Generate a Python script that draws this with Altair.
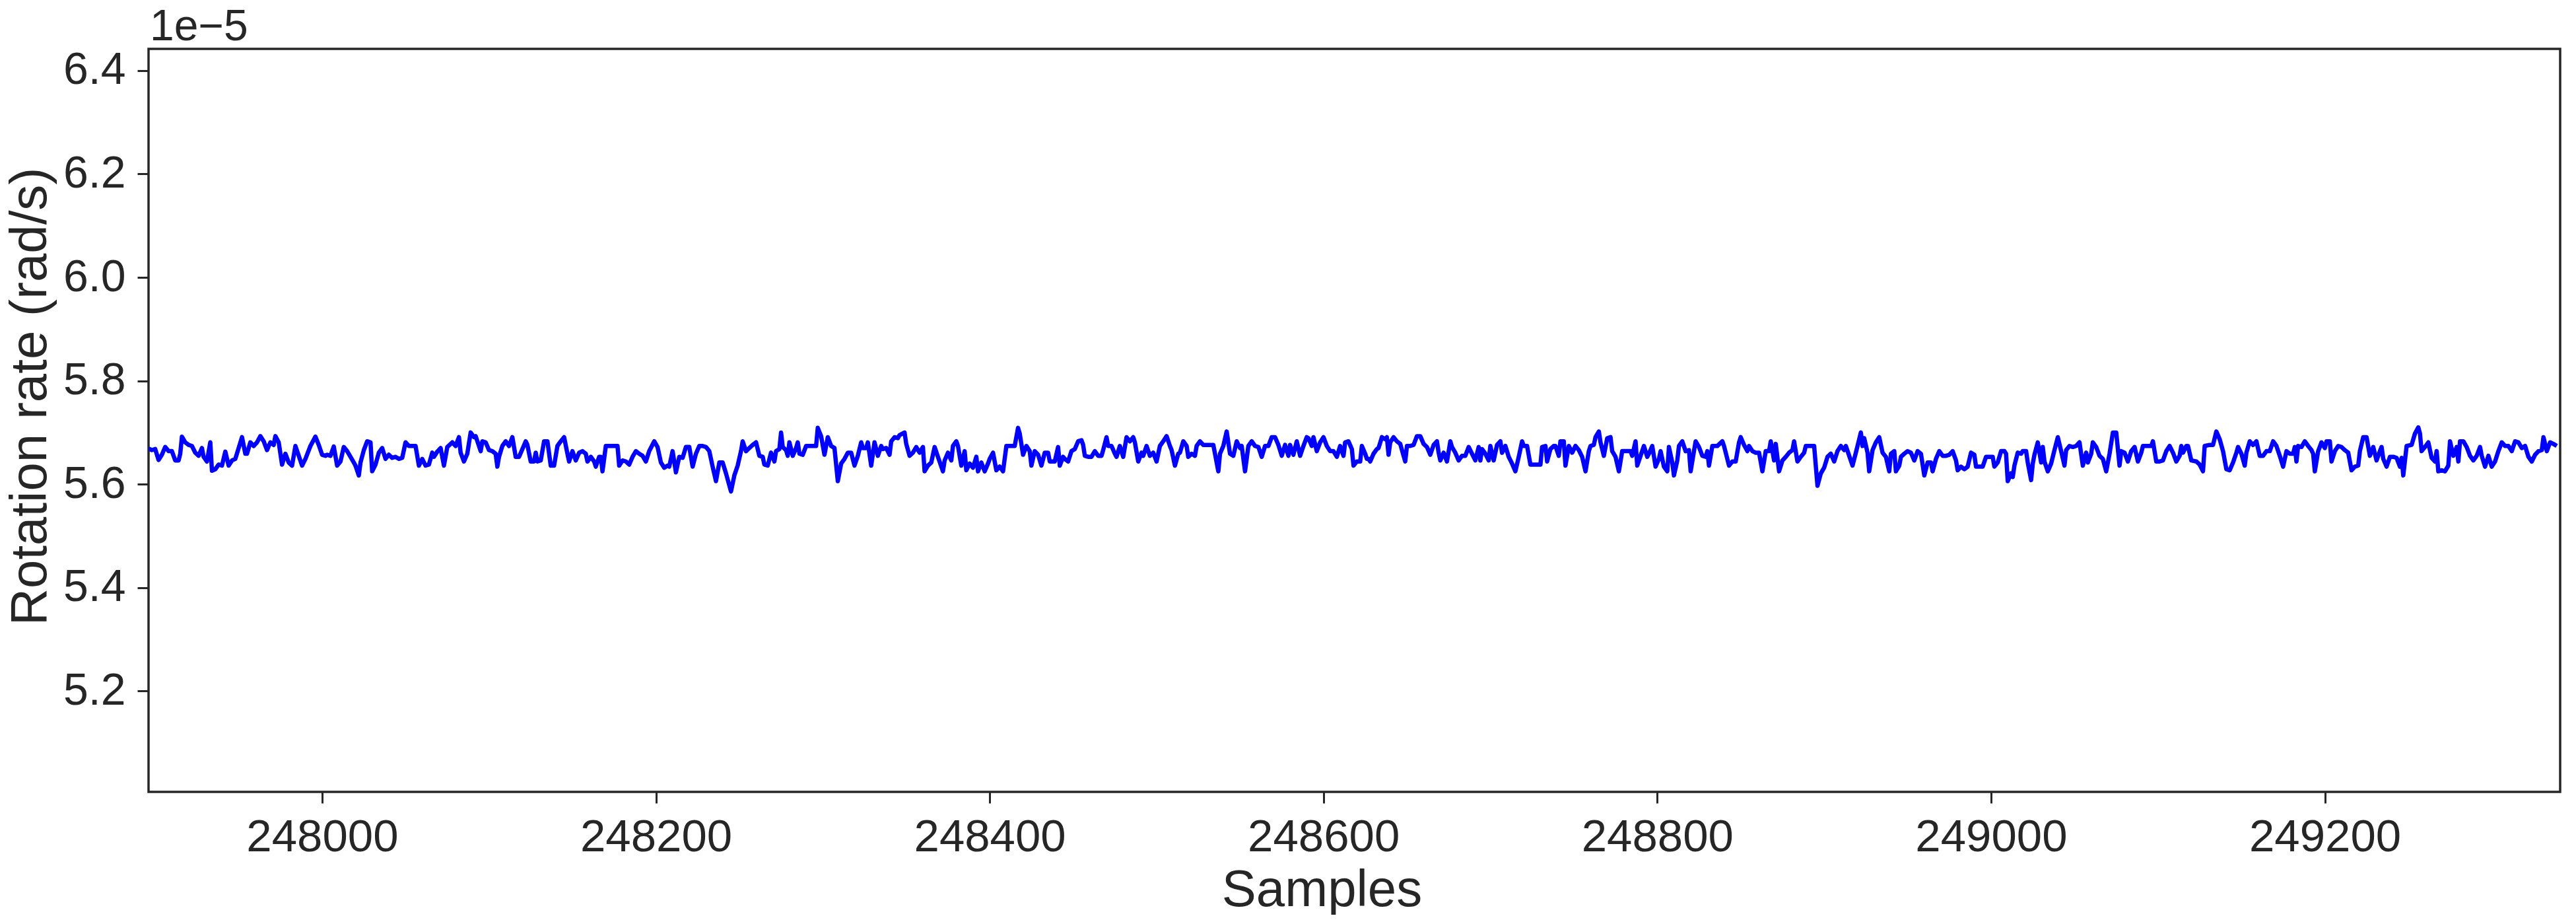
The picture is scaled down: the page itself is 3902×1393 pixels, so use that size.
import altair as alt
import pandas as pd

# ---- data (rotation rate in units of 1e-5 rad/s) ----
samples_a = [247896, 247898, 247900, 247902, 247904, 247906, 247908, 247910, 247912, 247914,
             247915, 247916, 247918, 247920, 247922, 247924, 247926, 247928, 247929, 247931,
             247933, 247934, 247936, 247938, 247940, 247942, 247944, 247946, 247948, 247950,
             247952, 247954, 247955, 247957, 247959, 247961, 247963, 247965, 247967, 247969,
             247971, 247972, 247974, 247976, 247978, 247980, 247982, 247984, 247986, 247988,
             247990, 247993, 247996, 247998, 248000, 248002, 248003, 248005, 248007, 248009,
             248011, 248013, 248015, 248017, 248019, 248020, 248022, 248023, 248025, 248027,
             248029, 248030, 248032, 248034, 248036, 248038, 248040, 248042, 248044, 248046,
             248048, 248050, 248052, 248054, 248056, 248058, 248060, 248062, 248064, 248066,
             248067, 248069, 248071, 248073, 248075, 248078, 248080]
rate_a = [5.669, 5.666, 5.668, 5.647, 5.657, 5.672, 5.664, 5.664, 5.646, 5.646,
          5.659, 5.692, 5.681, 5.676, 5.674, 5.661, 5.655, 5.670, 5.653, 5.644,
          5.681, 5.626, 5.629, 5.638, 5.636, 5.663, 5.636, 5.646, 5.649, 5.670,
          5.691, 5.659, 5.659, 5.681, 5.674, 5.681, 5.693, 5.683, 5.666, 5.681,
          5.676, 5.693, 5.681, 5.638, 5.659, 5.642, 5.636, 5.674, 5.655, 5.636,
          5.649, 5.674, 5.692, 5.676, 5.657, 5.655, 5.657, 5.655, 5.673, 5.636,
          5.644, 5.672, 5.664, 5.653, 5.642, 5.636, 5.617, 5.642, 5.666, 5.683,
          5.681, 5.625, 5.638, 5.661, 5.670, 5.649, 5.657, 5.651, 5.653, 5.649,
          5.651, 5.681, 5.674, 5.674, 5.674, 5.636, 5.649, 5.636, 5.638, 5.661,
          5.653, 5.663, 5.670, 5.636, 5.672, 5.681, 5.674]

samples_b = [248082, 248083, 248085, 248087, 248089, 248091, 248092, 248094, 248095, 248096,
             248098, 248100, 248102, 248104, 248105, 248106, 248108, 248110, 248112, 248114,
             248116, 248118, 248120, 248122, 248123, 248125, 248127, 248128, 248129, 248131,
             248133, 248135, 248137, 248139, 248141, 248143, 248145, 248147, 248148, 248150,
             248152, 248154, 248156, 248158, 248159, 248161, 248163, 248164, 248166, 248167,
             248168, 248170, 248172, 248175, 248177, 248178, 248180, 248182, 248184, 248186,
             248188, 248190, 248192, 248194, 248196, 248199, 248201, 248203, 248205, 248207,
             248208, 248210, 248212, 248214, 248216, 248218, 248220, 248222, 248224, 248226,
             248228, 248230, 248232, 248234, 248236, 248238, 248240, 248242, 248245, 248247,
             248249, 248251, 248252, 248254, 248256, 248258, 248260, 248262]
rate_b = [5.691, 5.661, 5.644, 5.659, 5.700, 5.691, 5.693, 5.674, 5.664, 5.683,
          5.681, 5.666, 5.664, 5.659, 5.634, 5.653, 5.674, 5.683, 5.674, 5.691,
          5.653, 5.653, 5.668, 5.683, 5.676, 5.644, 5.644, 5.661, 5.644, 5.646,
          5.683, 5.683, 5.636, 5.636, 5.674, 5.683, 5.691, 5.659, 5.644, 5.664,
          5.646, 5.661, 5.664, 5.659, 5.644, 5.653, 5.644, 5.634, 5.653, 5.653,
          5.625, 5.674, 5.674, 5.674, 5.674, 5.636, 5.646, 5.644, 5.638, 5.653,
          5.664, 5.659, 5.655, 5.644, 5.664, 5.683, 5.672, 5.642, 5.632, 5.636,
          5.634, 5.664, 5.623, 5.653, 5.651, 5.672, 5.672, 5.634, 5.659, 5.674,
          5.674, 5.672, 5.664, 5.634, 5.606, 5.642, 5.642, 5.621, 5.586, 5.617,
          5.636, 5.664, 5.683, 5.664, 5.670, 5.676, 5.681, 5.655]

samples_c = [248264, 248265, 248267, 248269, 248271, 248272, 248274, 248275, 248276, 248278,
             248279, 248280, 248282, 248284, 248285, 248286, 248288, 248290, 248292, 248296,
             248297, 248299, 248301, 248303, 248305, 248307, 248309, 248311, 248313, 248315,
             248317, 248319, 248321, 248323, 248324, 248326, 248327, 248329, 248331, 248333,
             248335, 248336, 248338, 248340, 248341, 248343, 248345, 248346, 248349, 248350,
             248352, 248354, 248356, 248358, 248360, 248361, 248363, 248365, 248367, 248369,
             248372, 248373, 248375, 248377, 248378, 248380, 248381, 248383, 248385, 248386,
             248388, 248390, 248392, 248393, 248395, 248397, 248399, 248400, 248402, 248404,
             248406, 248408, 248410, 248412, 248415, 248417, 248418, 248420, 248422, 248424,
             248425, 248427, 248429, 248431, 248433, 248435, 248436, 248439, 248441, 248442,
             248444]
rate_c = [5.653, 5.638, 5.636, 5.661, 5.644, 5.664, 5.668, 5.700, 5.672, 5.666,
          5.655, 5.681, 5.655, 5.670, 5.681, 5.659, 5.657, 5.674, 5.674, 5.674,
          5.709, 5.693, 5.657, 5.691, 5.674, 5.670, 5.606, 5.640, 5.649, 5.661,
          5.661, 5.636, 5.655, 5.681, 5.670, 5.670, 5.681, 5.636, 5.681, 5.655,
          5.674, 5.668, 5.670, 5.657, 5.683, 5.691, 5.689, 5.695, 5.700, 5.678,
          5.655, 5.661, 5.672, 5.661, 5.672, 5.625, 5.636, 5.642, 5.672, 5.653,
          5.625, 5.646, 5.661, 5.646, 5.674, 5.683, 5.674, 5.636, 5.664, 5.627,
          5.640, 5.632, 5.653, 5.625, 5.642, 5.625, 5.640, 5.649, 5.661, 5.627,
          5.634, 5.625, 5.674, 5.674, 5.674, 5.709, 5.698, 5.657, 5.674, 5.664,
          5.636, 5.664, 5.657, 5.636, 5.661, 5.661, 5.644, 5.644, 5.672, 5.636,
          5.653]

samples_d = [248445, 248447, 248449, 248451, 248453, 248455, 248456, 248457, 248459, 248461,
             248463, 248465, 248467, 248468, 248470, 248471, 248473, 248475, 248476, 248478,
             248480, 248482, 248484, 248486, 248487, 248489, 248491, 248492, 248494, 248496,
             248498, 248500, 248502, 248504, 248506, 248508, 248509, 248511, 248513, 248514,
             248516, 248518, 248519, 248521, 248523, 248524, 248526, 248528, 248531, 248534,
             248537, 248538, 248540, 248542, 248544, 248546, 248548, 248550, 248551, 248553,
             248555, 248557, 248559, 248561, 248563, 248565, 248567, 248569, 248571, 248573,
             248575, 248577, 248579, 248580, 248582, 248584, 248586, 248588, 248590, 248591,
             248593, 248594, 248596, 248598, 248600, 248602, 248604, 248606, 248608, 248610,
             248612, 248613, 248615, 248617, 248618, 248620, 248622, 248623, 248625, 248626]
rate_d = [5.649, 5.644, 5.664, 5.668, 5.683, 5.685, 5.676, 5.655, 5.653, 5.653,
          5.664, 5.655, 5.655, 5.666, 5.691, 5.674, 5.674, 5.659, 5.653, 5.674,
          5.653, 5.691, 5.683, 5.691, 5.681, 5.644, 5.661, 5.655, 5.674, 5.655,
          5.661, 5.644, 5.674, 5.683, 5.693, 5.674, 5.666, 5.636, 5.659, 5.661,
          5.683, 5.674, 5.653, 5.659, 5.655, 5.674, 5.683, 5.676, 5.676, 5.676,
          5.625, 5.659, 5.674, 5.702, 5.659, 5.655, 5.683, 5.670, 5.674, 5.625,
          5.674, 5.683, 5.674, 5.672, 5.653, 5.674, 5.674, 5.691, 5.691, 5.676,
          5.655, 5.676, 5.655, 5.676, 5.657, 5.683, 5.655, 5.674, 5.691, 5.689,
          5.674, 5.691, 5.664, 5.681, 5.691, 5.674, 5.664, 5.664, 5.653, 5.674,
          5.655, 5.681, 5.683, 5.668, 5.636, 5.644, 5.644, 5.674, 5.659, 5.649]

samples_e = [248627, 248628, 248630, 248632, 248633, 248635, 248637, 248638, 248639, 248640,
             248642, 248644, 248646, 248648, 248649, 248650, 248652, 248654, 248656, 248658,
             248660, 248662, 248664, 248666, 248668, 248669, 248670, 248672, 248674, 248676,
             248677, 248679, 248681, 248683, 248685, 248687, 248689, 248691, 248693, 248694,
             248695, 248697, 248699, 248700, 248702, 248704, 248706, 248707, 248709, 248711,
             248713, 248715, 248717, 248719, 248720, 248722, 248724, 248727, 248730, 248731,
             248733, 248734, 248736, 248738, 248739, 248741, 248742, 248744, 248745, 248747,
             248749, 248751, 248753, 248755, 248757, 248759, 248760, 248762, 248763, 248765,
             248766, 248768, 248770, 248772, 248773, 248775, 248777, 248779, 248782, 248784,
             248785, 248787, 248788, 248790, 248792, 248794, 248795, 248797, 248799, 248801,
             248802, 248804, 248806, 248807]
rate_e = [5.649, 5.644, 5.659, 5.668, 5.670, 5.691, 5.687, 5.691, 5.657, 5.681,
          5.691, 5.683, 5.678, 5.655, 5.644, 5.674, 5.674, 5.676, 5.693, 5.693,
          5.678, 5.672, 5.657, 5.676, 5.683, 5.661, 5.646, 5.661, 5.644, 5.683,
          5.672, 5.661, 5.646, 5.655, 5.655, 5.672, 5.659, 5.646, 5.672, 5.646,
          5.668, 5.659, 5.646, 5.674, 5.646, 5.676, 5.683, 5.661, 5.674, 5.653,
          5.640, 5.625, 5.653, 5.683, 5.674, 5.674, 5.638, 5.638, 5.638, 5.672,
          5.674, 5.644, 5.668, 5.674, 5.674, 5.655, 5.683, 5.683, 5.636, 5.674,
          5.661, 5.674, 5.666, 5.653, 5.625, 5.664, 5.674, 5.676, 5.691, 5.702,
          5.681, 5.655, 5.689, 5.691, 5.664, 5.653, 5.625, 5.664, 5.664, 5.664,
          5.655, 5.683, 5.636, 5.655, 5.674, 5.653, 5.659, 5.674, 5.634, 5.649,
          5.664, 5.634, 5.625, 5.672]

samples_f = [248809, 248810, 248812, 248813, 248815, 248817, 248819, 248820, 248822, 248823,
             248825, 248827, 248829, 248830, 248831, 248833, 248836, 248839, 248840, 248843,
             248845, 248847, 248849, 248850, 248852, 248854, 248855, 248857, 248859, 248861,
             248863, 248865, 248867, 248868, 248870, 248871, 248873, 248875, 248877, 248879,
             248881, 248882, 248884, 248886, 248888, 248889, 248892, 248894, 248896, 248898,
             248900, 248902, 248904, 248906, 248908, 248910, 248912, 248913, 248915, 248917,
             248919, 248920, 248922, 248923, 248924, 248926, 248927, 248929, 248931, 248933,
             248935, 248937, 248939, 248940, 248942, 248943, 248945, 248946, 248948, 248950,
             248952, 248954, 248956, 248958, 248960, 248962, 248964, 248965, 248967, 248969,
             248971, 248973, 248975, 248977, 248979, 248980, 248982, 248984, 248986, 248988,
             248990]
rate_f = [5.642, 5.617, 5.646, 5.674, 5.683, 5.664, 5.666, 5.625, 5.664, 5.683,
          5.672, 5.655, 5.653, 5.664, 5.636, 5.674, 5.674, 5.683, 5.674, 5.636,
          5.644, 5.644, 5.681, 5.691, 5.676, 5.664, 5.674, 5.664, 5.661, 5.661,
          5.625, 5.664, 5.664, 5.683, 5.646, 5.678, 5.625, 5.646, 5.653, 5.661,
          5.666, 5.683, 5.644, 5.653, 5.661, 5.674, 5.674, 5.674, 5.597, 5.621,
          5.632, 5.653, 5.659, 5.644, 5.664, 5.674, 5.666, 5.674, 5.655, 5.636,
          5.661, 5.674, 5.700, 5.674, 5.689, 5.661, 5.625, 5.666, 5.681, 5.691,
          5.661, 5.653, 5.625, 5.659, 5.664, 5.625, 5.636, 5.653, 5.659, 5.664,
          5.661, 5.646, 5.664, 5.659, 5.617, 5.642, 5.642, 5.625, 5.649, 5.664,
          5.655, 5.655, 5.657, 5.664, 5.646, 5.627, 5.634, 5.629, 5.634, 5.661,
          5.657]

samples_g = [248991, 248993, 248995, 248997, 248999, 249001, 249002, 249004, 249006, 249008,
             249009, 249010, 249012, 249013, 249014, 249016, 249018, 249019, 249021, 249022,
             249024, 249025, 249026, 249028, 249030, 249031, 249032, 249034, 249036, 249038,
             249040, 249042, 249044, 249045, 249047, 249049, 249051, 249053, 249055, 249057,
             249058, 249060, 249061, 249063, 249065, 249067, 249069, 249071, 249073, 249075,
             249077, 249078, 249080, 249082, 249084, 249086, 249088, 249090, 249091, 249094,
             249096, 249097, 249099, 249101, 249103, 249105, 249107, 249109, 249111, 249113,
             249114, 249115, 249117, 249118, 249120, 249123, 249125, 249127, 249128, 249131,
             249133, 249135, 249137, 249139, 249141, 249143, 249145, 249147, 249148, 249150,
             249152, 249153, 249155, 249157, 249159, 249161, 249163, 249165, 249167, 249169,
             249171]
rate_g = [5.634, 5.634, 5.634, 5.653, 5.653, 5.653, 5.634, 5.642, 5.664, 5.664,
          5.659, 5.606, 5.621, 5.614, 5.636, 5.661, 5.659, 5.664, 5.664, 5.642,
          5.608, 5.640, 5.657, 5.681, 5.642, 5.672, 5.644, 5.625, 5.640, 5.666,
          5.691, 5.664, 5.636, 5.666, 5.674, 5.672, 5.674, 5.681, 5.636, 5.661,
          5.642, 5.659, 5.681, 5.672, 5.655, 5.649, 5.625, 5.659, 5.700, 5.700,
          5.636, 5.664, 5.661, 5.644, 5.664, 5.672, 5.644, 5.661, 5.674, 5.674,
          5.674, 5.683, 5.644, 5.644, 5.646, 5.664, 5.674, 5.661, 5.644, 5.655,
          5.674, 5.661, 5.674, 5.674, 5.646, 5.644, 5.638, 5.625, 5.674, 5.676,
          5.676, 5.702, 5.687, 5.664, 5.629, 5.627, 5.642, 5.661, 5.672, 5.659,
          5.636, 5.661, 5.683, 5.676, 5.683, 5.655, 5.655, 5.664, 5.664, 5.683,
          5.674]

samples_h = [249173, 249175, 249177, 249179, 249181, 249182, 249183, 249184, 249186, 249188,
             249190, 249192, 249193, 249194, 249196, 249198, 249200, 249201, 249203, 249204,
             249206, 249208, 249210, 249212, 249214, 249216, 249218, 249220, 249221, 249223,
             249225, 249227, 249229, 249231, 249233, 249234, 249235, 249237, 249239, 249241,
             249243, 249245, 249246, 249247, 249249, 249252, 249254, 249256, 249257, 249258,
             249260, 249262, 249264, 249266, 249267, 249268, 249270, 249272, 249274, 249275,
             249277, 249279, 249280, 249281, 249283, 249285, 249287, 249289, 249291, 249293,
             249294, 249296, 249298, 249300, 249302, 249304, 249306, 249308, 249310, 249312,
             249314, 249316, 249318, 249320, 249322, 249324, 249326, 249328, 249330, 249331,
             249333, 249335, 249337, 249339]
rate_h = [5.655, 5.634, 5.664, 5.659, 5.659, 5.672, 5.644, 5.674, 5.672, 5.683,
          5.674, 5.666, 5.659, 5.625, 5.664, 5.681, 5.670, 5.683, 5.683, 5.644,
          5.664, 5.674, 5.672, 5.666, 5.661, 5.627, 5.634, 5.636, 5.664, 5.691,
          5.691, 5.655, 5.672, 5.646, 5.664, 5.672, 5.649, 5.634, 5.653, 5.653,
          5.651, 5.634, 5.651, 5.617, 5.674, 5.676, 5.698, 5.710, 5.698, 5.664,
          5.672, 5.681, 5.651, 5.644, 5.664, 5.625, 5.627, 5.625, 5.636, 5.683,
          5.655, 5.672, 5.644, 5.683, 5.683, 5.672, 5.655, 5.646, 5.655, 5.672,
          5.655, 5.634, 5.655, 5.634, 5.644, 5.664, 5.681, 5.674, 5.674, 5.664,
          5.683, 5.681, 5.670, 5.674, 5.653, 5.644, 5.657, 5.664, 5.666, 5.691,
          5.664, 5.681, 5.678, 5.674]

x_ticks = [248000, 248200, 248400, 248600, 248800, 249000, 249200]
y_ticks = [5.2, 5.4, 5.6, 5.8, 6.0, 6.2, 6.4]
x_domain = [247896, 249341]
y_domain = [5.005, 6.442]
offset_label = ["1e\u22125"]

samples = samples_a + samples_b + samples_c + samples_d + samples_e + samples_f + samples_g + samples_h
rate = rate_a + rate_b + rate_c + rate_d + rate_e + rate_f + rate_g + rate_h
df = pd.DataFrame({"Samples": samples, "Rate": rate})

TXT = "#262626"
FONT = "Liberation Sans"

line = alt.Chart(df).mark_line(
    color="#0000ff", strokeWidth=6.5, strokeJoin="round", clip=True
).encode(
    x=alt.X("Samples:Q",
            scale=alt.Scale(domain=x_domain, nice=False, zero=False),
            axis=alt.Axis(values=x_ticks, format="d", title="Samples",
                          titleX=1777, titleY=172, titleBaseline="alphabetic",
                          titleAlign="center", titleFontSize=78,
                          labelFontSize=69, labelPadding=17, labelBaseline="top",
                          labelLimit=0)),
    y=alt.Y("Rate:Q",
            scale=alt.Scale(domain=y_domain, nice=False, zero=False),
            axis=alt.Axis(values=y_ticks, format=".1f", title="Rotation rate (rad/s)",
                          titleX=-156, titleY=526, titleAngle=270,
                          titleBaseline="alphabetic", titleAlign="center",
                          titleFontSize=78, labelFontSize=68, labelPadding=18,
                          labelLimit=0)),
)

offset_text = alt.Chart(pd.DataFrame({"label": offset_label})).mark_text(
    align="left", baseline="alphabetic", fontSize=66, font=FONT, color=TXT
).encode(x=alt.value(2), y=alt.value(-13), text="label:N")

chart = alt.layer(line, offset_text).properties(
    width=3653, height=1125,
    autosize=alt.AutoSizeParams(type="none"),
    padding={"left": 217, "top": 66, "right": 16, "bottom": 186},
    background="white",
).configure_view(
    stroke=TXT, strokeWidth=3.5
).configure_axis(
    domain=False, grid=False, ticks=True, tickSize=17, tickWidth=3, tickColor=TXT,
    labelColor=TXT, titleColor=TXT, labelFont=FONT, titleFont=FONT,
    titleFontWeight="normal", labelOverlap=False, labelFlush=False
)

chart.save("out.html", embed_options={"renderer": "svg", "actions": False})
